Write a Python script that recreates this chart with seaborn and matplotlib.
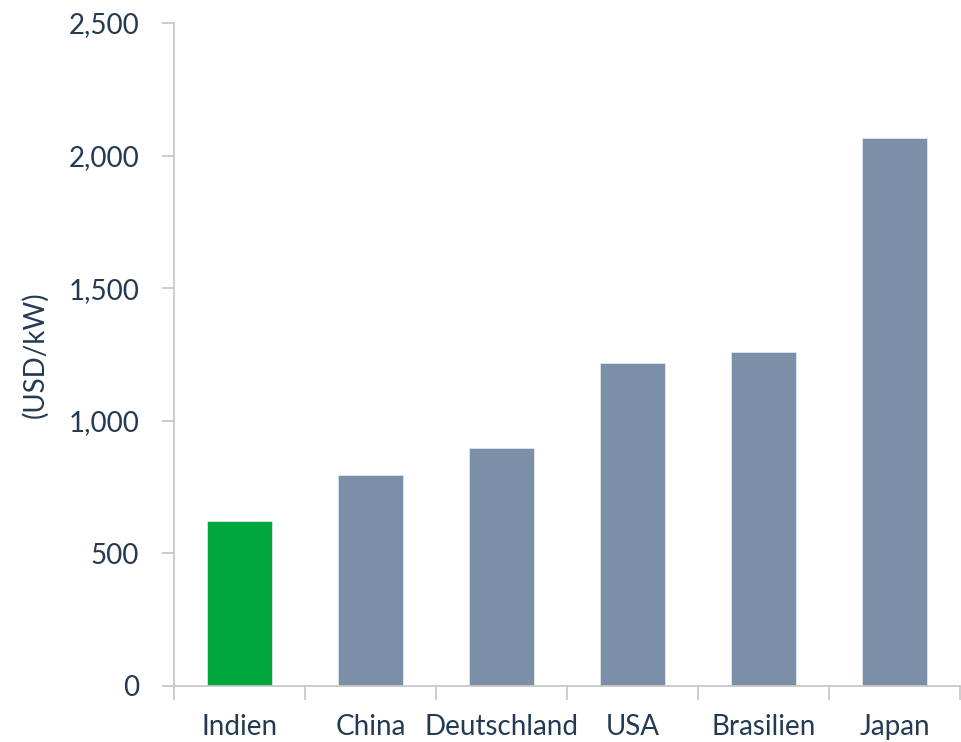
import matplotlib
matplotlib.use("Agg")
import matplotlib.pyplot as plt
import seaborn as sns
import pandas as pd
from matplotlib.ticker import FuncFormatter, FixedLocator

countries = ["Indien", "China", "Deutschland", "USA", "Brasilien", "Japan"]
values = [622, 795, 898, 1218, 1258, 2068]
bar_colors = ["#00a73c", "#7b90a8", "#7b90a8", "#7b90a8", "#7b90a8", "#7b90a8"]
y_ticks = [0, 500, 1000, 1500, 2000, 2500]
y_label = "(USD/kW)"

sns.set_theme(style="white")
plt.rcParams["font.family"] = ["Lato", "DejaVu Sans"]

text_color = "#243a52"
spine_color = "#c8c8c8"

df = pd.DataFrame({"country": countries, "value": values})

fig = plt.figure(figsize=(9.62, 7.42), dpi=100)
ax = fig.add_axes([174 / 962, 56 / 742, 786 / 962, 663 / 742])

sns.barplot(data=df, x="country", y="value", hue="country", palette=bar_colors,
            legend=False, width=0.5, ax=ax, edgecolor="#dfe6ee", linewidth=0.6,
            saturation=1)

ax.set_xlim(-0.5, len(countries) - 0.5)
ax.set_ylim(0, 2500)
ax.set_yticks(y_ticks)
ax.yaxis.set_major_formatter(FuncFormatter(lambda v, p: f"{int(v):,}"))
ax.set_xlabel("")
ax.set_ylabel(y_label, fontsize=20, color=text_color, labelpad=14)

ax.xaxis.set_minor_locator(FixedLocator([i - 0.5 for i in range(len(countries) + 1)]))
ax.tick_params(axis="x", which="major", length=0, pad=20, labelsize=20, labelcolor=text_color)
ax.tick_params(axis="x", which="minor", length=10, width=1.3, color=spine_color, bottom=True)
ax.tick_params(axis="y", which="major", length=9, width=1.3, color=spine_color,
               pad=16, labelsize=20, labelcolor=text_color, left=True)

for s in ["top", "right"]:
    ax.spines[s].set_visible(False)
for s in ["left", "bottom"]:
    ax.spines[s].set_color(spine_color)
    ax.spines[s].set_linewidth(1.3)

fig.savefig("out.png", dpi=100)
